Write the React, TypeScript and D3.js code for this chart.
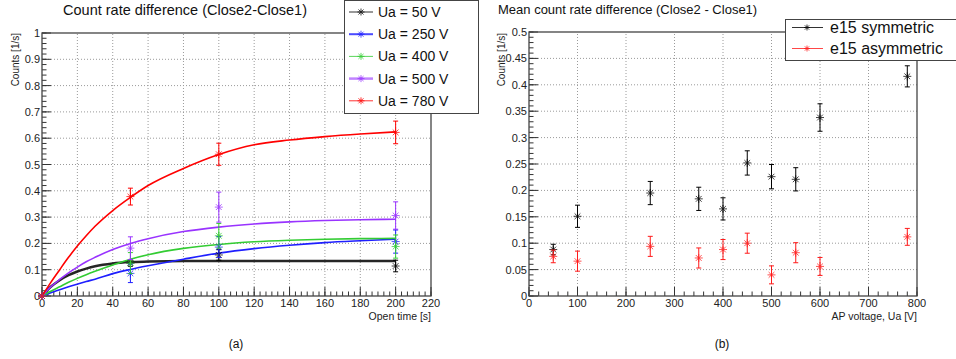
import React from 'react';
import * as d3 from 'd3';

// left panel: measured points (open time in s, counts in 1/s)
const openTime = [0, 50, 100, 200];
const ua50 = [0, 0.125, 0.156, 0.114];
const ua50Err = [0, 0.012, 0.02, 0.022];
const ua250 = [0, 0.086, 0.186, 0.207];
const ua250Err = [0, 0.035, 0.04, 0.044];
const ua400 = [0, 0.125, 0.229, 0.188];
const ua400Err = [0, 0.04, 0.047, 0.044];
const ua500 = [0, 0.182, 0.338, 0.306];
const ua500Err = [0, 0.043, 0.057, 0.052];
const ua780 = [0, 0.378, 0.539, 0.622];
const ua780Err = [0, 0.032, 0.042, 0.043];

// fitted curves
const curveTime = [0, 5, 10, 15, 20, 25, 30, 40, 50, 60, 80, 100, 120, 140, 160, 180, 200];
const fit50 = [0, 0.035, 0.06, 0.079, 0.093, 0.104, 0.113, 0.124, 0.129, 0.131, 0.133, 0.133, 0.133, 0.133, 0.133, 0.133, 0.133];
const fit250 = [0, 0.012, 0.024, 0.035, 0.045, 0.055, 0.064, 0.085, 0.101, 0.115, 0.14, 0.163, 0.18, 0.193, 0.203, 0.21, 0.216];
const fit400 = [0, 0.018, 0.035, 0.052, 0.067, 0.081, 0.094, 0.118, 0.14, 0.157, 0.181, 0.196, 0.206, 0.212, 0.216, 0.218, 0.219];
const fit500 = [0, 0.035, 0.063, 0.088, 0.11, 0.13, 0.147, 0.177, 0.2, 0.218, 0.245, 0.262, 0.274, 0.282, 0.287, 0.29, 0.292];
const fit780 = [0, 0.052, 0.1, 0.147, 0.19, 0.229, 0.265, 0.325, 0.375, 0.42, 0.485, 0.538, 0.575, 0.593, 0.606, 0.616, 0.624];

const leftLabels = ['Ua = 50 V', 'Ua = 250 V', 'Ua = 400 V', 'Ua = 500 V', 'Ua = 780 V'];

// right panel
const apVoltage = [50, 100, 250, 350, 400, 450, 500, 550, 600, 780];
const symmetric = [0.088, 0.151, 0.195, 0.184, 0.165, 0.252, 0.226, 0.221, 0.338, 0.416];
const symmetricErr = [0.01, 0.021, 0.022, 0.022, 0.021, 0.023, 0.023, 0.022, 0.026, 0.02];
const asymmetric = [0.075, 0.066, 0.094, 0.072, 0.088, 0.1, 0.04, 0.082, 0.056, 0.112];
const asymmetricErr = [0.012, 0.019, 0.019, 0.019, 0.019, 0.019, 0.017, 0.019, 0.017, 0.016];
const rightLabels = ['e15 symmetric', 'e15 asymmetric'];

const FONT = '"Liberation Sans", Arial, Helvetica, sans-serif';

const leftStyle = [
  { color: '#000000', width: 2.5, legendWidth: 1 },
  { color: '#1f1fff', width: 1.6, legendWidth: 2 },
  { color: '#33cc33', width: 1.6, legendWidth: 1 },
  { color: '#9933ff', width: 1.6, legendWidth: 2.5 },
  { color: '#ff0000', width: 1.6, legendWidth: 1 },
];

function Star({ x, y, color, r = 4 }: { x: number; y: number; color: string; r?: number }) {
  const d = r * 0.72;
  return (
    <g stroke={color} strokeWidth={1} opacity={0.75}>
      <line x1={x - r} y1={y} x2={x + r} y2={y} />
      <line x1={x} y1={y - r} x2={x} y2={y + r} />
      <line x1={x - d} y1={y - d} x2={x + d} y2={y + d} />
      <line x1={x - d} y1={y + d} x2={x + d} y2={y - d} />
      <circle cx={x} cy={y} r={1.2} fill={color} stroke="none" />
    </g>
  );
}

function ErrBar({ x, y0, y1, color }: { x: number; y0: number; y1: number; color: string }) {
  if (Math.abs(y0 - y1) < 0.5) return null;
  return (
    <g stroke={color} strokeWidth={1}>
      <line x1={x} y1={y0} x2={x} y2={y1} />
      <line x1={x - 2.5} y1={y0} x2={x + 2.5} y2={y0} />
      <line x1={x - 2.5} y1={y1} x2={x + 2.5} y2={y1} />
    </g>
  );
}

type FrameProps = {
  x: d3.ScaleLinear<number, number>;
  y: d3.ScaleLinear<number, number>;
  xMajor: number[];
  xMinor: number[];
  yMajor: number[];
  yMinor: number[];
  yFmt: (v: number) => string;
};

function Frame({ x, y, xMajor, xMinor, yMajor, yMinor, yFmt }: FrameProps) {
  const [x0, x1] = x.range();
  const [y0, y1] = y.range();
  return (
    <g>
      {/* grid */}
      <g stroke="#9a9a9a" strokeWidth={1} strokeDasharray="1 2">
        {xMajor.filter(v => x(v) > x0 + 1 && x(v) < x1 - 1).map(v => (
          <line key={'gx' + v} x1={x(v)} x2={x(v)} y1={y0} y2={y1} />
        ))}
        {yMajor.filter(v => y(v) < y0 - 1 && y(v) > y1 + 1).map(v => (
          <line key={'gy' + v} x1={x0} x2={x1} y1={y(v)} y2={y(v)} />
        ))}
      </g>
      {/* ticks */}
      <g stroke="#333" strokeWidth={1}>
        {xMinor.map(v => <line key={'mx' + v} x1={x(v)} x2={x(v)} y1={y0} y2={y0 - 4.5} />)}
        {xMajor.map(v => <line key={'Mx' + v} x1={x(v)} x2={x(v)} y1={y0} y2={y0 - 9} />)}
        {yMinor.map(v => <line key={'my' + v} x1={x0} x2={x0 + 4.5} y1={y(v)} y2={y(v)} />)}
        {yMajor.map(v => <line key={'My' + v} x1={x0} x2={x0 + 9} y1={y(v)} y2={y(v)} />)}
      </g>
      <rect x={x0} y={y1} width={x1 - x0} height={y0 - y1} fill="none" stroke="#444" strokeWidth={1.3} />
      <g fontFamily={FONT} fontSize={11} fill="#222">
        {xMajor.map(v => (
          <text key={'lx' + v} x={x(v)} y={y0 + 11} textAnchor="middle">{v}</text>
        ))}
        {yMajor.map(v => (
          <text key={'ly' + v} x={x0 - 2} y={y(v) + 4} textAnchor="end">{yFmt(v)}</text>
        ))}
      </g>
    </g>
  );
}

function LeftPanel() {
  const x = d3.scaleLinear().domain([0, 220]).range([42, 431]);
  const y = d3.scaleLinear().domain([0, 1]).range([296, 33]);
  const xMajor = d3.range(0, 221, 20);
  const xMinor = d3.range(0, 220.01, 20 / 6);
  const yMajor = d3.range(0, 1.001, 0.1).map(v => +v.toFixed(1));
  const yMinor = d3.range(0, 1.001, 0.02);
  const points = [ua50, ua250, ua400, ua500, ua780];
  const errs = [ua50Err, ua250Err, ua400Err, ua500Err, ua780Err];
  const fits = [fit50, fit250, fit400, fit500, fit780];
  const line = d3.line<number>()
    .x((_, i) => x(curveTime[i]))
    .y(d => y(d))
    .curve(d3.curveMonotoneX);

  return (
    <g>
      <text x={185} y={15} textAnchor="middle" fontFamily={FONT} fontSize={14.5} fill="#111">
        Count rate difference (Close2-Close1)
      </text>
      <Frame x={x} y={y} xMajor={xMajor} xMinor={xMinor} yMajor={yMajor} yMinor={yMinor}
        yFmt={v => (v === 0 || v === 1 ? String(v) : v.toFixed(1))} />
      <text transform="translate(19,33) rotate(-90)" textAnchor="end" fontFamily={FONT} fontSize={10} fill="#222">
        Counts [1/s]
      </text>
      <text x={431} y={320} textAnchor="end" fontFamily={FONT} fontSize={10.5} fill="#222">Open time [s]</text>
      {fits.map((f, i) => (
        <path key={'f' + i} d={line(f) || ''} fill="none" stroke={leftStyle[i].color}
          strokeWidth={leftStyle[i].width} opacity={i === 0 ? 0.85 : 1} />
      ))}
      {points.map((p, i) => (
        <g key={'p' + i}>
          {p.map((v, j) => (
            <g key={j}>
              <ErrBar x={x(openTime[j])} y0={y(v - errs[i][j])} y1={y(v + errs[i][j])} color={leftStyle[i].color} />
              <Star x={x(openTime[j])} y={y(v)} color={leftStyle[i].color} />
            </g>
          ))}
        </g>
      ))}
      {/* legend */}
      <rect x={344.5} y={0.5} width={134} height={113} fill="#fff" stroke="#444" strokeWidth={1} />
      {leftLabels.map((l, i) => {
        const cy = 12 + i * 22.2;
        return (
          <g key={l}>
            <line x1={349} x2={373} y1={cy} y2={cy} stroke={leftStyle[i].color} strokeWidth={leftStyle[i].legendWidth}
              opacity={i === 3 ? 0.6 : 0.8} />
            <Star x={361} y={cy} color={leftStyle[i].color} r={3.5} />
            <text x={378} y={cy + 5} fontFamily={FONT} fontSize={14} fill="#111">{l}</text>
          </g>
        );
      })}
      <text x={236} y={348} textAnchor="middle" fontFamily={FONT} fontSize={12} fill="#111">(a)</text>
    </g>
  );
}

function RightPanel() {
  const x = d3.scaleLinear().domain([0, 800]).range([529, 917]);
  const y = d3.scaleLinear().domain([0, 0.5]).range([296, 32]);
  const xMajor = d3.range(0, 801, 100);
  const xMinor = d3.range(0, 800.01, 20);
  const yMajor = d3.range(0, 0.5001, 0.05).map(v => +v.toFixed(2));
  const yMinor = d3.range(0, 0.5001, 0.01);
  const sets = [
    { v: symmetric, e: symmetricErr, color: '#000000' },
    { v: asymmetric, e: asymmetricErr, color: '#ff1a1a' },
  ];
  return (
    <g>
      <text x={498} y={14} fontFamily={FONT} fontSize={13} fill="#111">
        Mean count rate difference (Close2 - Close1)
      </text>
      <Frame x={x} y={y} xMajor={xMajor} xMinor={xMinor} yMajor={yMajor} yMinor={yMinor}
        yFmt={v => (v === 0 ? '0' : String(v))} />
      <text transform="translate(505,33) rotate(-90)" textAnchor="end" fontFamily={FONT} fontSize={10} fill="#222">
        Counts [1/s]
      </text>
      <text x={917} y={320} textAnchor="end" fontFamily={FONT} fontSize={10.5} fill="#222">AP voltage, Ua [V]</text>
      {sets.map((s, i) => (
        <g key={'s' + i}>
          {s.v.map((v, j) => (
            <g key={j}>
              <ErrBar x={x(apVoltage[j])} y0={y(v - s.e[j])} y1={y(v + s.e[j])} color={s.color} />
              <Star x={x(apVoltage[j])} y={y(v)} color={s.color} />
            </g>
          ))}
        </g>
      ))}
      <rect x={785.5} y={19.5} width={180} height={41} fill="#fff" stroke="#444" strokeWidth={1} />
      {rightLabels.map((l, i) => {
        const cy = 27.5 + i * 21;
        const c = sets[i].color;
        return (
          <g key={l}>
            <line x1={792} x2={823} y1={cy} y2={cy} stroke={c} strokeWidth={1} opacity={0.8} />
            <Star x={807} y={cy} color={c} r={3} />
            <text x={830} y={cy + 5.5} fontFamily={FONT} fontSize={16} fill="#111">{l}</text>
          </g>
        );
      })}
      <text x={722} y={348} textAnchor="middle" fontFamily={FONT} fontSize={12} fill="#111">(b)</text>
    </g>
  );
}

export default function App() {
  return (
    <svg width={956} height={359} style={{ position: 'absolute', left: 0, top: 0, background: '#fff' }}>
      <rect width={956} height={359} fill="#fff" />
      <LeftPanel />
      <RightPanel />
    </svg>
  );
}
